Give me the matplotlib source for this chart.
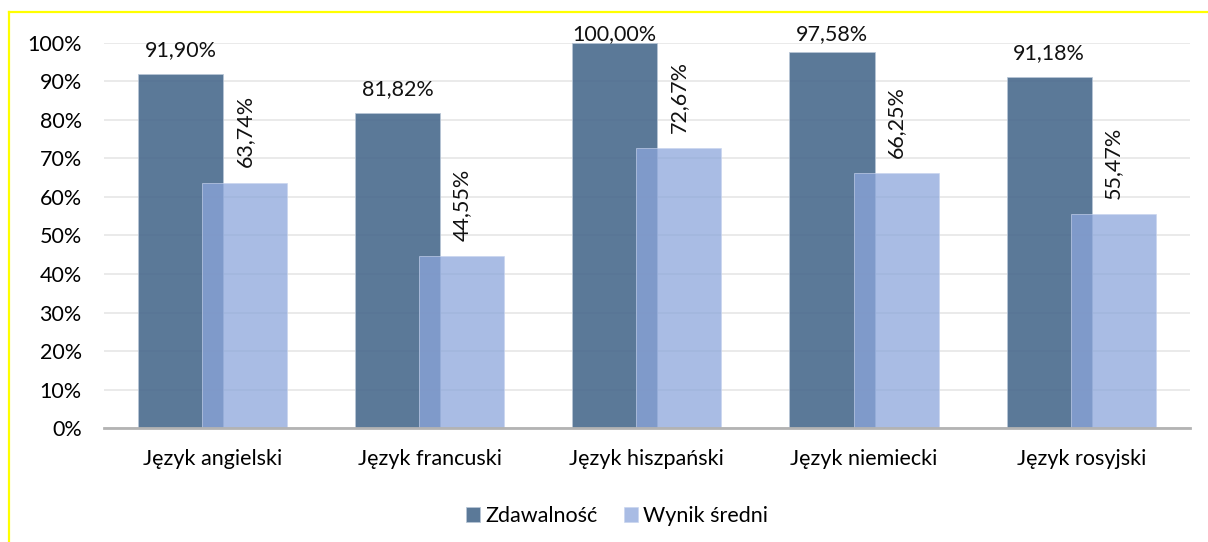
import matplotlib.pyplot as plt
import numpy as np
from matplotlib.lines import Line2D

# Data
languages = ['Język angielski', 'Język francuski', 'Język hiszpański',
             'Język niemiecki', 'Język rosyjski']
pass_rate = [91.90, 81.82, 100.00, 97.58, 91.18]
avg_score = [63.74, 44.55, 72.67, 66.25, 55.47]

plt.rcParams['font.family'] = ['Lato', 'DejaVu Sans']
fs = 15.5

fig = plt.figure(figsize=(12.08, 5.42), dpi=100)
ax = fig.add_axes([0.086, 0.2103, 0.899, 0.7104])

x = np.arange(len(languages))
width = 0.392
shift = 0.1475

dark = ax.bar(x - shift, pass_rate, width, color='#496A8D', alpha=0.9,
              edgecolor='#B8C6D6', linewidth=0.6, zorder=2, label='Zdawalność')
light = ax.bar(x + shift, avg_score, width, color='#8CA6DB', alpha=0.75,
               edgecolor='#C8D4EE', linewidth=0.6, zorder=3, label='Wynik średni')

# Value labels (kept near the plot top, like Excel does)
for xi, v in zip(x - shift, pass_rate):
    ax.text(xi, min(v + 6.3, 102.3), f'{v:.2f}%'.replace('.', ','),
            ha='center', va='center', fontsize=fs, color='#111111', zorder=5)
for xi, v in zip(x + shift, avg_score):
    ax.annotate(f'{v:.2f}%'.replace('.', ','), (xi, v), xytext=(0, 11),
                textcoords='offset points', ha='center', va='bottom',
                rotation=90, fontsize=fs, color='#111111', annotation_clip=False)

ax.set_xlim(-0.5, len(languages) - 0.5)
ax.set_ylim(0, 100)
ax.set_yticks(range(0, 101, 10))
ax.set_yticklabels([f'{t}%' for t in range(0, 101, 10)], fontsize=fs)
ax.set_xticks(x)
ax.set_xticklabels(languages, fontsize=fs)
ax.tick_params(length=0)
ax.tick_params(axis='y', pad=16)
ax.tick_params(axis='x', pad=15)

ax.grid(axis='y', color='#E6E6E6', linewidth=1.2, zorder=0)
ax.set_axisbelow(True)
for s in ['left', 'right', 'top']:
    ax.spines[s].set_visible(False)
ax.spines['bottom'].set_color('#B3B3B3')
ax.spines['bottom'].set_linewidth(2)
ax.spines['bottom'].set_zorder(4)

fig.legend(handles=[dark, light], loc='center', bbox_to_anchor=(0.511, 0.048),
           ncol=2, frameon=False, fontsize=fs, handlelength=0.65, handleheight=0.65,
           handletextpad=0.25, columnspacing=1.2)

# Yellow frame on left and top
fig.add_artist(Line2D([0.0075, 0.0075], [0, 0.977], color='#FFFF00', linewidth=1.6,
                      transform=fig.transFigure))
fig.add_artist(Line2D([0.0075, 1], [0.977, 0.977], color='#FFFF00', linewidth=1.6,
                      transform=fig.transFigure))

fig.savefig('out.png', dpi=100)
